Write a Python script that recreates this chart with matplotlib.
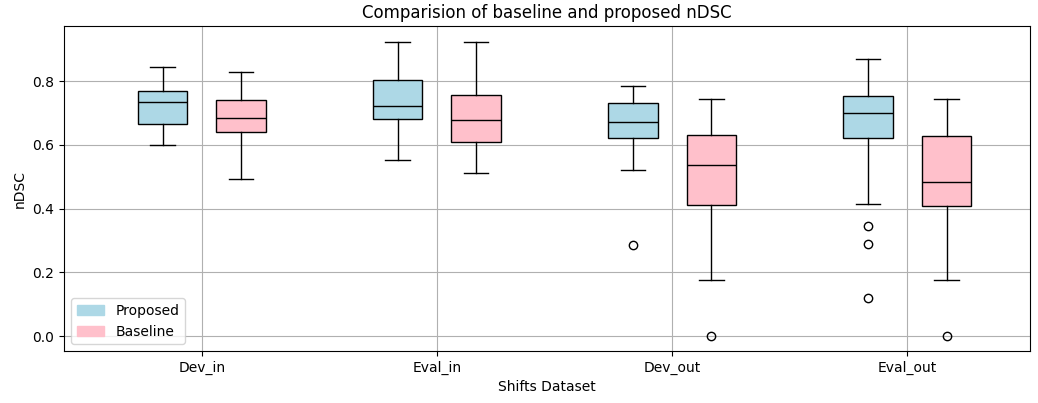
import matplotlib
matplotlib.use("Agg")
import matplotlib.pyplot as plt
import matplotlib.patches as mpatches
import numpy as np

# datasets on the x axis
datasets = ["Dev_in", "Eval_in", "Dev_out", "Eval_out"]

# box stats (nDSC)
prop_whislo = [0.599, 0.553, 0.520, 0.415]
prop_q1 = [0.665, 0.682, 0.620, 0.620]
prop_med = [0.735, 0.722, 0.672, 0.699]
prop_q3 = [0.768, 0.803, 0.731, 0.754]
prop_whishi = [0.844, 0.922, 0.784, 0.870]
prop_fliers = [[], [], [0.285], [0.345, 0.289, 0.120]]

base_whislo = [0.494, 0.513, 0.177, 0.177]
base_q1 = [0.639, 0.609, 0.411, 0.408]
base_med = [0.685, 0.677, 0.536, 0.483]
base_q3 = [0.740, 0.757, 0.632, 0.628]
base_whishi = [0.830, 0.922, 0.744, 0.744]
base_fliers = [[], [], [0.0], [0.0]]


def make_stats(lo, q1, med, q3, hi, fl):
    stats = []
    for i in range(len(lo)):
        stats.append({"whislo": lo[i], "q1": q1[i], "med": med[i], "q3": q3[i],
                      "whishi": hi[i], "fliers": np.array(fl[i])})
    return stats


fig = plt.figure(figsize=(10.38, 4.03), dpi=100)
ax = fig.add_axes([0.0617, 0.129, 0.9306, 0.8065])

ticks = np.arange(len(datasets)) * 3
flierprops = dict(marker='o', markerfacecolor='none', markeredgecolor='black', markersize=6)

bp1 = ax.bxp(make_stats(prop_whislo, prop_q1, prop_med, prop_q3, prop_whishi, prop_fliers),
             positions=ticks - 0.5, widths=0.63, patch_artist=True,
             medianprops=dict(color='black'), flierprops=flierprops, manage_ticks=False)
bp2 = ax.bxp(make_stats(base_whislo, base_q1, base_med, base_q3, base_whishi, base_fliers),
             positions=ticks + 0.5, widths=0.63, patch_artist=True,
             medianprops=dict(color='black'), flierprops=flierprops, manage_ticks=False)

for b in bp1['boxes']:
    b.set_facecolor('lightblue')
for b in bp2['boxes']:
    b.set_facecolor('pink')

ax.set_xticks(ticks)
ax.set_xticklabels(datasets)
ax.set_xlim(-1.756, 10.565)
ax.set_ylim(-0.047, 0.973)
ax.set_yticks([0.0, 0.2, 0.4, 0.6, 0.8])
ax.grid(True)
ax.set_axisbelow(True)

ax.set_title("Comparision of baseline and proposed nDSC", fontsize=12)
ax.set_xlabel("Shifts Dataset")
ax.set_ylabel("nDSC")

handles = [mpatches.Patch(color='lightblue', label='Proposed'),
           mpatches.Patch(color='pink', label='Baseline')]
ax.legend(handles=handles, loc='lower left')

fig.savefig("out.png", dpi=100)
